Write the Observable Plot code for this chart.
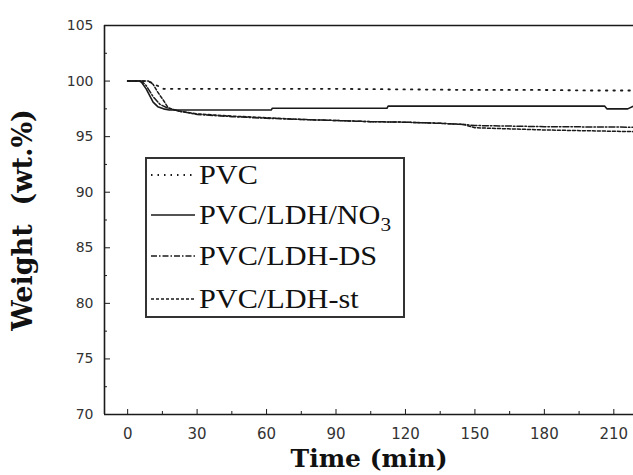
<!DOCTYPE html>
<html>
<head>
<meta charset="utf-8">
<script src="https://cdn.jsdelivr.net/npm/d3@7"></script>
<script src="https://cdn.jsdelivr.net/npm/@observablehq/plot@0.6"></script>
<style>
  body { margin: 0; background: #fff; }
  #wrap { position: relative; width: 633px; height: 475px; overflow: hidden; }
  #wrap svg [aria-label="x-axis label"] text { font-family: "DejaVu Serif", serif; font-weight: bold; font-size: 25px; fill: #111; }
  #wrap svg [aria-label="y-axis label"] text { font-family: "DejaVu Serif", serif; font-weight: bold; font-size: 27px; fill: #111; }
  #legend { position: absolute; left: 145px; top: 157px; width: 256px; height: 157px; border: 2px solid #333; background: #fff; box-sizing: content-box; }
  #legend .row { position: absolute; left: 0; height: 32px; display: flex; align-items: center; }
  #legend .row span { display: inline-block; font-family: "Liberation Serif", "Times New Roman", serif; font-size: 27px; color: #111; white-space: nowrap; transform: scaleX(1.12); transform-origin: left center; }
  #legend sub { font-size: 19px; vertical-align: -7px; line-height: 0; }
</style>
</head>
<body>
<div id="wrap"></div>
<script>
// ---- data ----
const seriesNames = ["PVC", "PVC/LDH/NO3", "PVC/LDH-DS", "PVC/LDH-st"];

const tPVC = [0, 6, 8, 10.5, 12.7, 15.5, 20, 40, 60, 90, 120, 150, 180, 200, 218.5];
const wPVC = [100, 100, 100, 99.85, 99.6, 99.3, 99.3, 99.3, 99.3, 99.3, 99.25, 99.2, 99.2, 99.15, 99.15];

const tNO3 = [0, 5, 6, 8, 11, 13, 15.5, 18, 25, 62, 62.5, 112, 112.5, 206, 207, 216, 218.5];
const wNO3 = [100, 100, 99.9, 99.3, 98.1, 97.7, 97.5, 97.4, 97.4, 97.4, 97.55, 97.55, 97.75, 97.75, 97.5, 97.5, 97.75];

const tDS = [0, 6, 8, 11, 14, 17, 22, 30, 45, 60, 75, 90, 105, 120, 135, 145, 150, 180, 218.5];
const wDS = [100, 100, 99.6, 98.6, 97.9, 97.6, 97.3, 97.0, 96.8, 96.65, 96.55, 96.45, 96.35, 96.3, 96.2, 96.1, 96.0, 95.9, 95.85];

const tST = [0, 9, 11, 13, 15.5, 17.5, 22, 30, 45, 60, 75, 90, 105, 120, 135, 145, 150, 180, 218.5];
const wST = [100, 100, 99.7, 99.0, 98.25, 97.6, 97.3, 97.05, 96.85, 96.7, 96.55, 96.45, 96.35, 96.3, 96.2, 96.1, 95.8, 95.6, 95.45];

const xMajorTicks = [0, 30, 60, 90, 120, 150, 180, 210];
const xMinorTicks = [15, 45, 75, 105, 135, 165, 195];
const yMajorTicks = [70, 75, 80, 85, 90, 95, 100, 105];
const yMinorTicks = [72.5, 77.5, 82.5, 87.5, 92.5, 97.5, 102.5];

// ---- build tidy rows ----
const zip = (name, ts, ws) => ts.map((t, i) => ({series: name, time: t, weight: ws[i]}));
const dPVC = zip(seriesNames[0], tPVC, wPVC);
const dNO3 = zip(seriesNames[1], tNO3, wNO3);
const dDS = zip(seriesNames[2], tDS, wDS);
const dST = zip(seriesNames[3], tST, wST);

const ink = "#1a1a1a";
const tickFont = "DejaVu Sans, sans-serif";

const chart = Plot.plot({
  width: 633,
  height: 475,
  marginLeft: 104,
  marginRight: 0,
  marginTop: 25,
  marginBottom: 61,
  style: {background: "#fff", color: ink},
  x: {domain: [-10, 218.5]},
  y: {domain: [70, 105]},
  marks: [
    Plot.ruleY([70], {stroke: ink, strokeWidth: 1.6}),
    Plot.ruleY([105], {stroke: ink, strokeWidth: 1.6}),
    Plot.ruleX([-10], {stroke: ink, strokeWidth: 1.6}),
    Plot.axisX({ticks: xMajorTicks, tickSize: -5, tickPadding: 19, fontSize: 15, fontFamily: tickFont, fill: "#333",
      label: "Time (min)", labelAnchor: "center", labelArrow: "none", labelOffset: 52}),
    Plot.axisX({ticks: xMinorTicks, tickSize: -3, tickFormat: () => "", label: null}),
    Plot.axisY({ticks: yMajorTicks, tickSize: -6, tickPadding: 17, fontSize: 14, fontFamily: tickFont, fill: "#333",
      label: "Weight  (wt.%)", labelAnchor: "center", labelArrow: "none", labelOffset: 92}),
    Plot.axisY({ticks: yMinorTicks, tickSize: -3, tickFormat: () => "", label: null}),
    Plot.line(dPVC, {x: "time", y: "weight", stroke: ink, strokeWidth: 1.8, strokeDasharray: "1.5,6", strokeLinecap: "round"}),
    Plot.line(dNO3, {x: "time", y: "weight", stroke: ink, strokeWidth: 1.6}),
    Plot.line(dDS, {x: "time", y: "weight", stroke: ink, strokeWidth: 1.5, strokeDasharray: "6,2,1.5,2"}),
    Plot.line(dST, {x: "time", y: "weight", stroke: ink, strokeWidth: 1.5, strokeDasharray: "3,2"})
  ]
});

const wrap = document.getElementById("wrap");
wrap.appendChild(chart);

// ---- legend (HTML overlay) ----
const legendStyles = [
  {dash: "1.5,5", width: 1.8},
  {dash: null, width: 1.6},
  {dash: "6,2,1.5,2", width: 1.5},
  {dash: "3,2", width: 1.5}
];
const legendTops = [0, 40, 81, 124];
const legend = document.createElement("div");
legend.id = "legend";
seriesNames.forEach((name, i) => {
  const row = document.createElement("div");
  row.className = "row";
  row.style.top = legendTops[i] + "px";
  const s = legendStyles[i];
  const svgNS = "http://www.w3.org/2000/svg";
  const sv = document.createElementNS(svgNS, "svg");
  sv.setAttribute("width", "52");
  sv.setAttribute("height", "10");
  const ln = document.createElementNS(svgNS, "line");
  ln.setAttribute("x1", "4"); ln.setAttribute("x2", "48");
  ln.setAttribute("y1", "5"); ln.setAttribute("y2", "5");
  ln.setAttribute("stroke", ink);
  ln.setAttribute("stroke-width", s.width);
  if (s.dash) ln.setAttribute("stroke-dasharray", s.dash);
  sv.appendChild(ln);
  row.appendChild(sv);
  const sp = document.createElement("span");
  if (name.endsWith("NO3")) {
    sp.innerHTML = "PVC/LDH/NO<sub>3</sub>";
  } else {
    sp.textContent = name;
  }
  row.appendChild(sp);
  legend.appendChild(row);
});
wrap.appendChild(legend);
</script>
</body>
</html>
